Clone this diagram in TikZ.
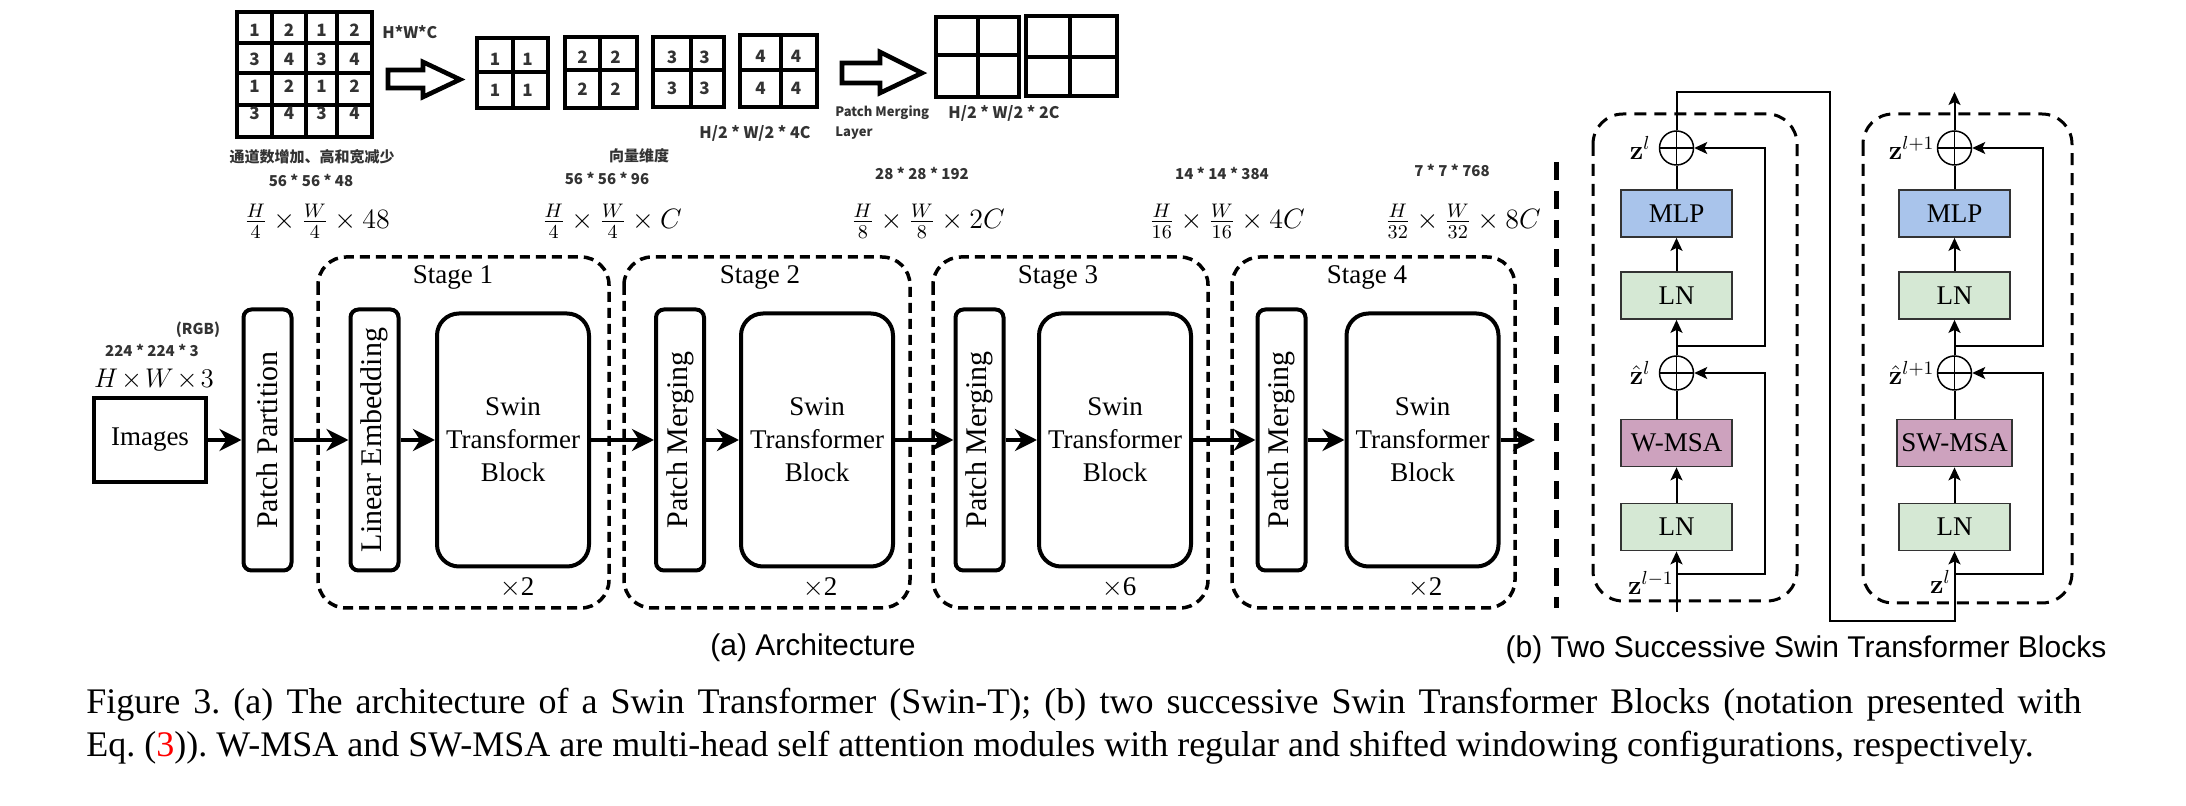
\RequirePackage{fix-cm}
\documentclass[tikz,border=0pt]{standalone}
\usepackage[no-math]{fontspec}
\setmainfont{Liberation Serif}
\newfontfamily\cnfont{Noto Sans CJK SC}
\newfontfamily\capsans{Liberation Sans}
\usetikzlibrary{arrows.meta}
\frenchspacing
\definecolor{colMLP}{HTML}{A9C4EB}
\definecolor{colLN}{HTML}{D5E8D4}
\definecolor{colMSA}{HTML}{CDA2BE}
\definecolor{annc}{HTML}{333333}
\tikzset{
  tallbox/.style={draw, line width=2pt, rounded corners=4pt, minimum width=24pt, minimum height=130.5pt, inner sep=0pt, font=\fontsize{15}{18}\selectfont},
  swinbox/.style={draw, line width=2pt, rounded corners=11pt, minimum width=76pt, minimum height=126.5pt, inner sep=0pt, align=center, font=\fontsize{13.5}{16.5}\selectfont},
  imgbox/.style={draw, line width=2pt, minimum width=56pt, minimum height=42pt, inner sep=0pt, font=\fontsize{13.5}{16}\selectfont},
  flow/.style={line width=2pt, -{Stealth[length=11pt,width=11pt,inset=3.5pt]}},
  stagebox/.style={line width=1.75pt, dash pattern=on 5pt off 3pt, rounded corners=14pt},
  serif/.style={font=\fontsize{13.5}{16}\selectfont, inner sep=0pt},
  dimlab/.style={font=\fontsize{14}{16}\selectfont, inner sep=0pt},
  ann/.style={font=\cnfont\bfseries\fontsize{7.5}{9}\selectfont, text=annc, inner sep=0pt},
  annb/.style={font=\cnfont\bfseries\fontsize{8}{9}\selectfont, text=annc, inner sep=0pt},
  anns/.style={font=\cnfont\bfseries\fontsize{6.5}{8}\selectfont, text=annc, inner sep=0pt},
  gridline/.style={line width=2.3pt},
  gridnum/.style={font=\cnfont\bfseries\fontsize{8.5}{10}\selectfont, text=annc, inner sep=0pt},
  blk/.style={draw=black!80, line width=0.9pt, minimum width=55.5pt, minimum height=23.5pt, inner sep=0pt, font=\fontsize{13.5}{16}\selectfont},
  addc/.style={circle, draw=black, line width=0.75pt, minimum size=17pt, inner sep=0pt,
    path picture={\draw[line width=0.75pt] (path picture bounding box.west) -- (path picture bounding box.east) (path picture bounding box.north) -- (path picture bounding box.south);}},
  slim/.style={line width=1pt},
  slimarr/.style={line width=1pt, -{Stealth[length=6.5pt,width=6pt,inset=1.5pt]}},
  skiparr/.style={line width=0.85pt, -{Stealth[length=6.5pt,width=6pt,inset=1.5pt]}},
  blockdash/.style={line width=1.5pt, dash pattern=on 6pt off 4pt, rounded corners=15pt},
  sepline/.style={line width=2.5pt, dash pattern=on 9pt off 5.5pt},
  zlab/.style={font=\fontsize{13.5}{16}\selectfont, inner sep=0pt},
  subcap/.style={font=\capsans\fontsize{15}{17}\selectfont, inner sep=0pt},
  figcap/.style={font=\fontsize{18}{21}\selectfont, inner sep=0pt, anchor=base west},
}
\begin{document}
\begin{tikzpicture}[x=0.5pt,y=-0.5pt]
\useasboundingbox (0,0) rectangle (2186,806);

% ---------- top sketch ----------
\draw[gridline] (237,12) rectangle (372,137);
\foreach \xx in {272,306,337} \draw[gridline] (\xx,12) -- (\xx,137);
\foreach \yy in {43,73,105} \draw[gridline] (237,\yy) -- (372,\yy);
\foreach \r/\yy/\a/\b in {1/30/1/2, 2/59/3/4, 3/86/1/2, 4/113/3/4} {
  \node[gridnum] (g\r-a) at (254.5,\yy) {\a};
  \node[gridnum] (g\r-b) at (289,\yy) {\b};
  \node[gridnum] (g\r-c) at (321.5,\yy) {\a};
  \node[gridnum] (g\r-d) at (354.5,\yy) {\b};
}
\node[annb, anchor=west] (hwc) at (382,32) {H*W*C};
\draw[gridline, line join=miter] (388,70) -- (423,70) -- (423,62) -- (460,79.5) -- (423,97) -- (423,88) -- (388,88) -- cycle;

\foreach \i/\xa/\ya/\xb/\yb/\xm/\ym in {1/477/38/548/108/513/72, 2/565/37/637/108/600/70, 3/653/37/724/107/691/70, 4/740/35/817/107/781/70} {
  \draw[gridline] (\xa,\ya) rectangle (\xb,\yb);
  \draw[gridline] (\xm,\ya) -- (\xm,\yb) (\xa,\ym) -- (\xb,\ym);
  \node[gridnum] (s\i-a) at ({(\xa+\xm)/2},{(\ya+\ym)/2+4}) {\i};
  \node[gridnum] (s\i-b) at ({(\xm+\xb)/2-3},{(\ya+\ym)/2+4}) {\i};
  \node[gridnum] (s\i-c) at ({(\xa+\xm)/2},{(\ym+\yb)/2}) {\i};
  \node[gridnum] (s\i-d) at ({(\xm+\xb)/2-3},{(\ym+\yb)/2}) {\i};
}
\node[annb] (hw4c) at (755,133) {H/2 * W/2 * 4C};
\draw[gridline, line join=miter] (842,63) -- (880,63) -- (880,52) -- (922,73) -- (880,93) -- (880,83) -- (842,83) -- cycle;
\node[anns, anchor=west] (pml1) at (835,113) {Patch Merging};
\node[anns, anchor=west] (pml2) at (835,133) {Layer};
\foreach \xa/\ya/\xb/\yb/\xm/\ym in {936/17/1019/97/978/55, 1026/16/1117/96/1070/57} {
  \draw[gridline] (\xa,\ya) rectangle (\xb,\yb);
  \draw[gridline] (\xm,\ya) -- (\xm,\yb) (\xa,\ym) -- (\xb,\ym);
}
\node[annb] (hw2c) at (1004,113) {H/2 * W/2 * 2C};

% ---------- annotations ----------
\node[ann] (cn1) at (312,157) {通道数增加、高和宽减少};
\node[ann] (n1) at (311,180) {56 * 56 * 48};
\node[dimlab] (m1) at (317,221) {$\frac{H}{4}\times\frac{W}{4}\times48$};
\node[ann] (cn2) at (639,156) {向量维度};
\node[ann] (n2) at (607,178) {56 * 56 * 96};
\node[dimlab] (m2) at (612,221) {$\frac{H}{4}\times\frac{W}{4}\times C$};
\node[ann] (n3) at (922,173) {28 * 28 * 192};
\node[dimlab] (m3) at (928,221) {$\frac{H}{8}\times\frac{W}{8}\times 2C$};
\node[ann] (n4) at (1222,173) {14 * 14 * 384};
\node[dimlab] (m4) at (1227,221) {$\frac{H}{16}\times\frac{W}{16}\times 4C$};
\node[ann] (n5) at (1452,170) {7 * 7 * 768};
\node[dimlab] (m5) at (1463,221) {$\frac{H}{32}\times\frac{W}{32}\times 8C$};
\node[ann] (rgb) at (198,330) {(RGB)};
\node[ann] (n0) at (152,350) {224 * 224 * 3};
\node[dimlab, font=\fontsize{13.5}{16}\selectfont] (m0) at (154,379) {$H\mkern-2mu\times\mkern-2mu W\mkern-2mu\times\mkern-2mu 3$};

% ---------- stages ----------
\draw[stagebox] (318,257) rectangle (609,608);
\draw[stagebox] (624,257) rectangle (910,608);
\draw[stagebox] (933,257) rectangle (1208,608);
\draw[stagebox] (1232,257) rectangle (1515,608);
\node[serif] (l1) at (453,277) {Stage 1};
\node[serif] (l2) at (760,277) {Stage 2};
\node[serif] (l3) at (1058,277) {Stage 3};
\node[serif] (l4) at (1367,277) {Stage 4};

\node[imgbox] (img) at (150,440) {Images};
\node[tallbox] (pp) at (267.5,440) {\rotatebox{90}{Patch Partition}};
\node[tallbox] (le) at (374.5,440) {\rotatebox{90}{Linear Embedding}};
\node[swinbox] (st1) at (513,440) {Swin\\Transformer\\Block};
\node[tallbox] (pm2) at (680,440) {\rotatebox{90}{Patch Merging}};
\node[swinbox] (st2) at (817,440) {Swin\\Transformer\\Block};
\node[tallbox] (pm3) at (979.5,440) {\rotatebox{90}{Patch Merging}};
\node[swinbox] (st3) at (1115,440) {Swin\\Transformer\\Block};
\node[tallbox] (pm4) at (1281.5,440) {\rotatebox{90}{Patch Merging}};
\node[swinbox] (st4) at (1422.5,440) {Swin\\Transformer\\Block};
\coordinate (outend) at (1535,440);

\node[serif] (x1) at (517,588) {$\times$2};
\node[serif] (x2) at (820,588) {$\times$2};
\node[serif] (x3) at (1119,588) {$\times$6};
\node[serif] (x4) at (1425,588) {$\times$2};

\draw[flow] (img) -- (pp);
\draw[flow] (pp) -- (le);
\draw[flow] (le) -- (st1);
\draw[flow] (st1) -- (pm2);
\draw[flow] (pm2) -- (st2);
\draw[flow] (st2) -- (pm3);
\draw[flow] (pm3) -- (st3);
\draw[flow] (st3) -- (pm4);
\draw[flow] (pm4) -- (st4);
\draw[flow] (st4) -- (outend);

% ---------- separator ----------
\coordinate (sept) at (1556,162);
\coordinate (sepb) at (1556,608);
\draw[sepline] (sept) -- (sepb);

% ---------- two blocks ----------
\draw[blockdash] (1593,114) rectangle (1797,601);
\draw[blockdash] (1863,114) rectangle (2072,603);

\node[addc] (pa1) at (1676.5,148) {};
\node[blk, fill=colMLP] (mlpa) at (1676.5,213.5) {MLP};
\node[blk, fill=colLN] (lnb) at (1676.5,295.5) {LN};
\node[addc] (pa2) at (1676.5,373) {};
\node[blk, fill=colMSA] (msaa) at (1676.5,443) {W-MSA};
\node[blk, fill=colLN] (lna) at (1676.5,527) {LN};

\node[addc] (pb1) at (1954.5,148) {};
\node[blk, fill=colMLP] (mlpb) at (1954.5,213.5) {MLP};
\node[blk, fill=colLN] (lnd) at (1954.5,295.5) {LN};
\node[addc] (pb2) at (1954.5,373) {};
\node[blk, fill=colMSA, minimum width=57.5pt] (msab) at (1954.5,443) {SW-MSA};
\node[blk, fill=colLN] (lnc) at (1954.5,527) {LN};

\coordinate (ina) at (1676.5,612);
\coordinate (ska) at (1676.5,574);
\coordinate (skc) at (1676.5,346);
\coordinate (rxa) at (1765,0);
\coordinate (tr) at (1830,92.5);
\coordinate (br) at (1830,621);
\coordinate (skb) at (1954.5,574);
\coordinate (skd) at (1954.5,346);
\coordinate (rxb) at (2043,0);
\coordinate (outb) at (1954.5,92);

\draw[slimarr] (ina) -- (lna);
\draw[slimarr] (lna) -- (msaa);
\draw[slim] (msaa) -- (pa2);
\draw[slimarr] (pa2) -- (lnb);
\draw[slimarr] (lnb) -- (mlpa);
\draw[slim] (mlpa) -- (pa1);
\draw[skiparr] (ska) -| (rxa |- pa2) -- (pa2);
\draw[skiparr] (skc) -| (rxa |- pa1) -- (pa1);
\draw[slimarr] (pa1) |- (tr) -- (br) -| (lnc);

\draw[slimarr] (lnc) -- (msab);
\draw[slim] (msab) -- (pb2);
\draw[slimarr] (pb2) -- (lnd);
\draw[slimarr] (lnd) -- (mlpb);
\draw[slim] (mlpb) -- (pb1);
\draw[slimarr] (pb1) -- (outb);
\draw[skiparr] (skb) -| (rxb |- pb2) -- (pb2);
\draw[skiparr] (skd) -| (rxb |- pb1) -- (pb1);

\node[zlab, anchor=east] (zla) at ([xshift=-4pt]pa1.west) {$\mathbf{z}^{l}$};
\node[zlab, anchor=east] (zhla) at ([xshift=-4pt]pa2.west) {$\hat{\mathbf{z}}^{l}$};
\node[zlab, anchor=east] (zlm) at (1674,583) {$\mathbf{z}^{l-1}$};
\node[zlab, anchor=east] (zlb) at ([xshift=-1pt]pb1.west) {$\mathbf{z}^{l+1}$};
\node[zlab, anchor=east] (zhlb) at ([xshift=-1pt]pb2.west) {$\hat{\mathbf{z}}^{l+1}$};
\node[zlab, anchor=east] (zlr) at (1951,582) {$\mathbf{z}^{l}$};

% ---------- captions ----------
\node[subcap] (capa) at (813,648) {(a) Architecture};
\node[subcap] (capb) at (1806,650) {(b) Two Successive Swin Transformer Blocks};
\node[figcap] (cap1) at (86,714) {\makebox[997.5pt][s]{Figure 3. (a) The architecture of a Swin Transformer (Swin-T); (b) two successive Swin Transformer Blocks (notation presented with}};
\node[figcap] (cap2) at (86,756) {Eq. (\textcolor{red}{3})). W-MSA and SW-MSA are multi-head self attention modules with regular and shifted windowing configurations, respectively.};
\end{tikzpicture}
\end{document}
